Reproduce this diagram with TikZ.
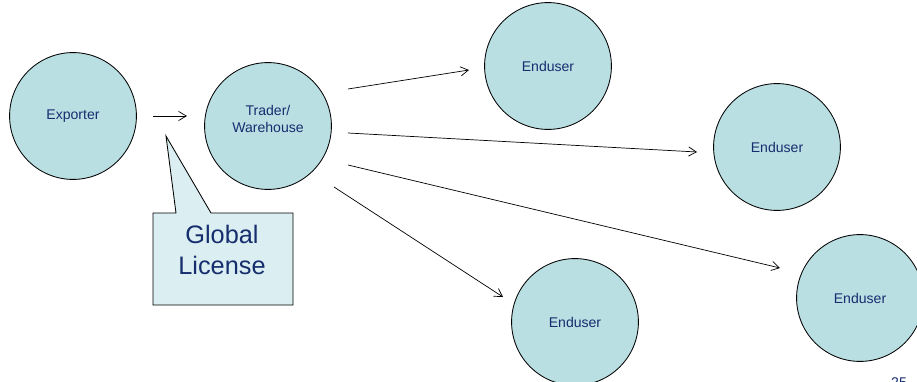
\documentclass[tikz,border=0pt]{standalone}
\usepackage{fontspec}
\setmainfont{Liberation Sans}
\usetikzlibrary{arrows.meta}
\definecolor{bubble}{RGB}{185,223,227}
\definecolor{notefill}{RGB}{219,238,241}
\definecolor{navy}{RGB}{22,45,110}
\tikzset{
  party/.style={circle,draw,line width=0.6pt,fill=bubble,minimum size=3.17cm,
    inner sep=0pt,text=navy,font=\fontsize{10}{12}\selectfont,align=center},
  flow/.style={line width=0.5pt,-{Straight Barb[length=5.5pt,width=6.5pt]}}
}
\begin{document}
\begin{tikzpicture}[x=0.025cm,y=-0.025cm]
\useasboundingbox (0,0) rectangle (917,382);
\node[party] (exporter) at (73,116) {Exporter};
\node[party,label={[text=navy,font=\fontsize{10}{12}\selectfont,align=center,yshift=5.3pt]center:Trader/\\Warehouse}] (trader) at (268,126) {};
\node[party] (endA) at (548,66) {Enduser};
\node[party] (endB) at (777,147) {Enduser};
\node[party] (endC) at (860,298) {Enduser};
\node[party] (endD) at (575,322) {Enduser};
\coordinate (e1) at (153,116);
\coordinate (t1) at (187,116);
\coordinate (a1) at (348,89);
\coordinate (a2) at (469,70);
\coordinate (b1) at (348,133);
\coordinate (b2) at (697,152);
\coordinate (c1) at (348,165);
\coordinate (c2) at (780,268);
\coordinate (d1) at (334,187);
\coordinate (d2) at (503,297);
\draw[flow] (e1) -- (t1);
\draw[flow] (a1) -- (a2);
\draw[flow] (b1) -- (b2);
\draw[flow] (c1) -- (c2);
\draw[flow] (d1) -- (d2);
\draw[line width=0.6pt,fill=notefill] (153,213) -- (176,213) -- (166,136) -- (211,213)
  -- (293,213) -- (293,305) -- (153,305) -- cycle;
\node[text=navy,font=\fontsize{18}{22}\selectfont,align=center] (license) at (222,250) {Global\\License};
\node[text=navy,font=\fontsize{10}{12}\selectfont,anchor=north,inner sep=0pt] (page) at (899,377) {25};
\end{tikzpicture}
\end{document}
